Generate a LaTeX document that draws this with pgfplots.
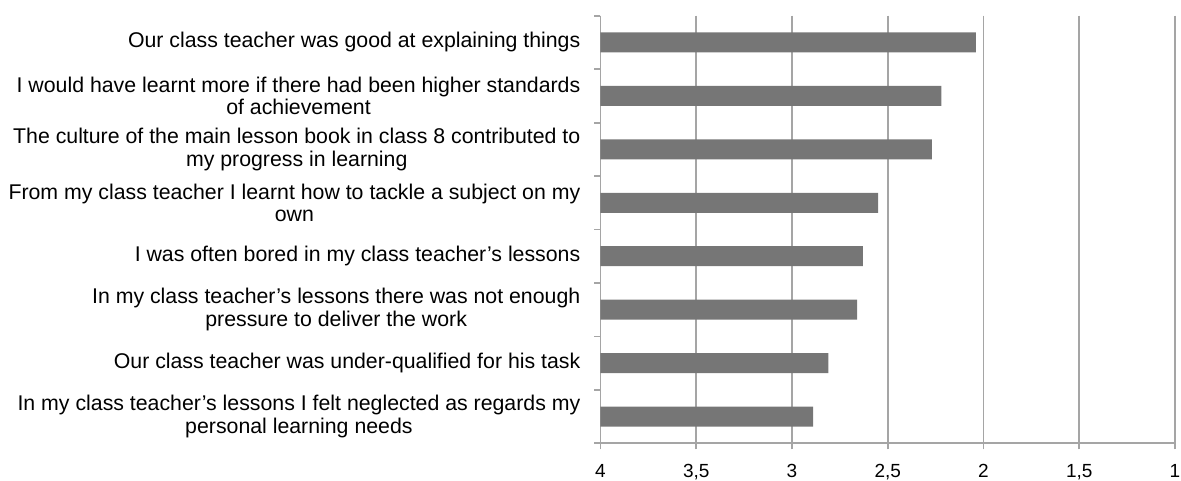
\documentclass[border=0pt]{standalone}
\usepackage{pgfplots}
\pgfplotsset{compat=1.18}
\usepackage{fontspec}
\setmainfont{Liberation Sans}
\definecolor{bargray}{RGB}{118,118,118}
\definecolor{linegray}{RGB}{165,165,165}
\begin{document}
\begin{tikzpicture}
\path[use as bounding box] (0,0) rectangle (1181pt,480pt);
\begin{axis}[
 at={(600.5pt,36.7pt)}, anchor=south west,
 scale only axis, width=574.5pt, height=427.6pt,
 xmin=0, xmax=3, ymin=0.5, ymax=8.5, y dir=reverse,
 axis x line*=bottom, axis y line*=left,
 axis line style={linegray, line width=1.8pt},
 xtick={0,0.5,...,3}, xticklabels={4,{3,5},3,{2,5},2,{1,5},1},
 xmajorgrids, grid style={linegray, line width=1.8pt},
 tick style={linegray, line width=1.8pt},
 tick align=outside, major tick length=6pt,
 ytick={0.5,1.5,...,8.5}, yticklabels={},
 extra y ticks={1,2,3,4,5,6,7,8},
 extra y tick labels={
  {Our class teacher was good at explaining things},
  {I would have learnt more if there had been higher standards\\of achievement},
  {The culture of the main lesson book in class 8 contributed to\\my progress in learning},
  {From my class teacher I learnt how to tackle a subject on my\\own},
  {I was often bored in my class teacher’s lessons},
  {In my class teacher’s lessons there was not enough\\pressure to deliver the work},
  {Our class teacher was under-qualified for his task},
  {In my class teacher’s lessons I felt neglected as regards my\\personal learning needs}},
 extra y tick style={major tick length=0pt},
 yticklabel style={align=center, font=\fontsize{21.3}{22.5}\selectfont, inner sep=0pt, xshift=-20pt},
 xticklabel style={font=\fontsize{19}{21}\selectfont, inner sep=0pt, anchor=base, yshift=-28pt},
]
\addplot[xbar, bar width=20pt, fill=bargray, draw=none] table[x expr=4-\thisrow{v}, y=c] {
c v
1 2.04
2 2.22
3 2.27
4 2.55
5 2.63
6 2.66
7 2.81
8 2.89
};
\end{axis}
\end{tikzpicture}
\end{document}
